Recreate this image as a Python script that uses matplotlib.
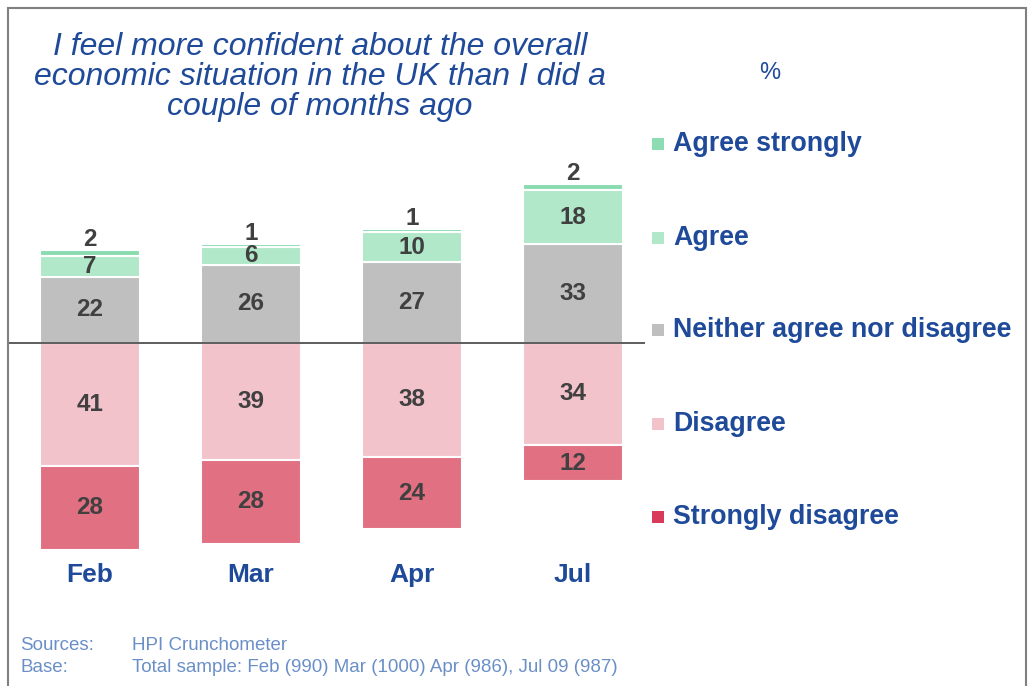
import numpy as np
import matplotlib
matplotlib.use("Agg")
import matplotlib.pyplot as plt
from matplotlib.patches import Rectangle

plt.rcParams['font.family'] = ['Liberation Sans', 'DejaVu Sans']

# Data
months = ["Feb", "Mar", "Apr", "Jul"]
strongly_disagree = [28, 28, 24, 12]
disagree = [41, 39, 38, 34]
neither = [22, 26, 27, 33]
agree = [7, 6, 10, 18]
agree_strongly = [2, 1, 1, 2]

legend_names = ["Agree strongly", "Agree", "Neither agree nor disagree",
                "Disagree", "Strongly disagree"]

bar_colours = {"as": "#8ADCB0", "a": "#B0E8C9", "n": "#BFBFBF",
               "d": "#F2C3CB", "sd": "#E07082"}
legend_colours = ["#8EDCB4", "#B0E8C9", "#BFBFBF", "#F2C3CB", "#D93A5A"]

title_blue = "#1F4A9A"
label_grey = "#404040"

W, H = 1032, 686
fig = plt.figure(figsize=(W / 100, H / 100), dpi=100)

# axes placed in pixel terms
ax_left, ax_right, ax_top, ax_bottom = 8, 645, 150, 556
base_px = 343
px_per_unit = 3.0
ax = fig.add_axes([ax_left / W, 1 - ax_bottom / H,
                   (ax_right - ax_left) / W, (ax_bottom - ax_top) / H])

x = np.arange(len(months))
spacing = 161.0
ax.set_xlim(-(90 - ax_left) / spacing, (ax_right - 90) / spacing)
ax.set_ylim(-(ax_bottom - base_px) / px_per_unit, (base_px - ax_top) / px_per_unit)

width = 100 / spacing
sd = np.array(strongly_disagree)
d = np.array(disagree)
n = np.array(neither)
a = np.array(agree)
s = np.array(agree_strongly)

kw = dict(width=width, edgecolor="white", linewidth=1.5)
ax.bar(x, -d, color=bar_colours["d"], **kw)
ax.bar(x, -sd, bottom=-d, color=bar_colours["sd"], **kw)
ax.bar(x, n, color=bar_colours["n"], **kw)
ax.bar(x, a, bottom=n, color=bar_colours["a"], **kw)
ax.bar(x, s, bottom=n + a, color=bar_colours["as"], **kw)

lab = dict(ha="center", va="center", fontsize=17.5, fontweight="bold",
           color=label_grey)
for i in range(len(months)):
    ax.text(x[i], -d[i] / 2, str(d[i]), **lab)
    ax.text(x[i], -d[i] - sd[i] / 2, str(sd[i]), **lab)
    ax.text(x[i], n[i] / 2, str(n[i]), **lab)
    ax.text(x[i], n[i] + a[i] / 2, str(a[i]), **lab)
    ax.text(x[i], n[i] + a[i] + s[i] + 3.5, str(s[i]), **lab)

ax.axhline(0, color="#505050", linewidth=1.3)

ax.set_xticks(x)
ax.set_xticklabels(months, fontsize=19, fontweight="bold", color=title_blue)
ax.tick_params(axis="x", length=0, pad=5)
ax.set_yticks([])
for sp in ax.spines.values():
    sp.set_visible(False)
ax.patch.set_alpha(0)

# title
fig.text(320 / W, 1 - 77 / H,
         "I feel more confident about the overall\n"
         "economic situation in the UK than I did a\n"
         "couple of months ago",
         ha="center", va="center", fontsize=23, style="italic",
         color=title_blue, linespacing=0.98)
fig.text(770 / W, 1 - 73 / H, "%", ha="center", va="center",
         fontsize=17, color=title_blue)

# legend
leg_y = [144, 238, 330, 424, 517]
for name, col, yy in zip(legend_names, legend_colours, leg_y):
    fig.add_artist(Rectangle((652 / W, 1 - (yy + 6) / H), 12 / W, 12 / H,
                             transform=fig.transFigure, facecolor=col,
                             edgecolor="none"))
    fig.text(673 / W, 1 - yy / H, name, ha="left", va="center",
             fontsize=19.3, fontweight="bold", color=title_blue)

# sources
src_col = "#6A8FC8"
fig.text(20 / W, 1 - 646 / H, "Sources:", fontsize=13.5, color=src_col,
         va="center")
fig.text(132 / W, 1 - 646 / H, "HPI Crunchometer", fontsize=13.5,
         color=src_col, va="center")
fig.text(20 / W, 1 - 667 / H, "Base:", fontsize=13.5, color=src_col,
         va="center")
fig.text(132 / W, 1 - 667 / H,
         "Total sample: Feb (990) Mar (1000) Apr (986), Jul 09 (987)",
         fontsize=13.5, color=src_col, va="center")

# frame
fig.add_artist(Rectangle((8 / W, -0.02), (1026 - 8) / W, 1.02 - 8 / H,
                         transform=fig.transFigure, facecolor="none",
                         edgecolor="#808080", linewidth=1.5))

fig.savefig("out.png", dpi=100)
